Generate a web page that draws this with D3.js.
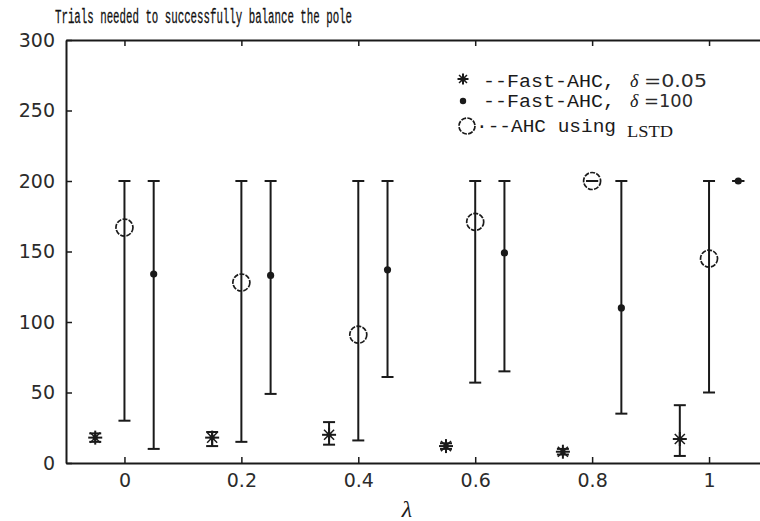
<!DOCTYPE html>
<html>
<head>
<meta charset="utf-8">
<script src="https://cdn.jsdelivr.net/npm/d3@7"></script>
<style>
  html, body { margin: 0; padding: 0; background: #fff; }
  svg { display: block; }
</style>
</head>
<body>
<svg id="chart" width="760" height="521"></svg>
<script>
// Trials needed to balance the pole, per lambda, for three learners
const lambdaStar = [-0.05, 0.15, 0.35, 0.55, 0.75, 0.95];
const starMean   = [18, 18, 20, 12, 8, 17];
const starLow    = [15, 12, 13, 10, 6, 5];
const starHigh   = [21, 22, 29, 14, 10, 41];

const lambdaDot  = [0.05, 0.25, 0.45, 0.65, 0.85, 1.05];
const dotMean    = [134, 133, 137, 149, 110, 200];
const dotLow     = [10, 49, 61, 65, 35, 200];
const dotHigh    = [200, 200, 200, 200, 200, 200];

const lambdaCirc = [0, 0.2, 0.4, 0.6, 0.8, 1.0];
const circMean   = [167, 128, 91, 171, 200, 145];
const circLow    = [30, 15, 16, 57, 200, 50];
const circHigh   = [200, 200, 200, 200, 200, 200];

const xTicks = [0, 0.2, 0.4, 0.6, 0.8, 1];
const yTicks = [0, 50, 100, 150, 200, 250, 300];

const titleText = "Trials needed to successfully balance the pole";
const legendLabels = ["--Fast-AHC,", "--Fast-AHC,", "\u00b7--AHC using"];
const legendParams = ["=0.05", "=100", "LSTD"];

const svg = d3.select("#chart");
const ink = "#1a1a1a";

const x = d3.scaleLinear().domain([-0.1, 1.1]).range([66, 767.5]);
const y = d3.scaleLinear().domain([0, 300]).range([463, 40]);

// frame with inward ticks
function styleAxis(g) {
  g.select(".domain").attr("stroke", ink).attr("stroke-width", 2);
  g.selectAll(".tick line").attr("stroke", ink).attr("stroke-width", 1.5);
  g.selectAll(".tick text")
    .attr("fill", "#2b2b2b")
    .attr("font-family", "'DejaVu Sans', sans-serif")
    .attr("font-size", 19);
}

svg.append("g")
  .attr("transform", `translate(0,${y(0)})`)
  .call(d3.axisBottom(x).tickValues(xTicks).tickSizeInner(-6).tickSizeOuter(0)
        .tickPadding(11).tickFormat(d => String(+d.toFixed(1))))
  .call(styleAxis);

svg.append("g")
  .attr("transform", `translate(0,${y(300)})`)
  .call(d3.axisTop(x).tickValues(xTicks).tickSizeInner(-6).tickSizeOuter(0).tickFormat(""))
  .call(styleAxis);

svg.append("g")
  .attr("transform", `translate(${x(-0.1)},0)`)
  .call(d3.axisLeft(y).tickValues(yTicks).tickSizeInner(-6).tickSizeOuter(0).tickPadding(11))
  .call(styleAxis);

svg.append("g")
  .attr("transform", `translate(${x(1.1)},0)`)
  .call(d3.axisRight(y).tickValues(yTicks).tickSizeInner(-6).tickSizeOuter(0).tickFormat(""))
  .call(styleAxis);

// error bars
function errorBars(xs, lo, hi) {
  const g = svg.append("g").attr("stroke", ink).attr("stroke-width", 2).attr("fill", "none");
  xs.forEach((lx, i) => {
    const cx = x(lx);
    g.append("line").attr("x1", cx).attr("x2", cx).attr("y1", y(lo[i])).attr("y2", y(hi[i]));
    g.append("line").attr("x1", cx - 6).attr("x2", cx + 6).attr("y1", y(lo[i])).attr("y2", y(lo[i]));
    g.append("line").attr("x1", cx - 6).attr("x2", cx + 6).attr("y1", y(hi[i])).attr("y2", y(hi[i]));
  });
}
errorBars(lambdaStar, starLow, starHigh);
errorBars(lambdaDot, dotLow, dotHigh);
errorBars(lambdaCirc, circLow, circHigh);

// markers
function star(g, cx, cy, r) {
  const s = g.append("g").attr("transform", `translate(${cx},${cy})`).attr("stroke", ink);
  s.append("line").attr("x1", -r).attr("x2", r).attr("stroke-width", 2);
  s.append("line").attr("y1", -r).attr("y2", r).attr("stroke-width", 2);
  const d = r * 0.72;
  s.append("line").attr("x1", -d).attr("y1", -d).attr("x2", d).attr("y2", d).attr("stroke-width", 1.5);
  s.append("line").attr("x1", -d).attr("y1", d).attr("x2", d).attr("y2", -d).attr("stroke-width", 1.5);
  s.append("circle").attr("r", 2.6).attr("fill", ink).attr("stroke", "none");
}
function dot(g, cx, cy, r) {
  g.append("circle").attr("cx", cx).attr("cy", cy).attr("r", r).attr("fill", ink);
}
function ring(g, cx, cy, r) {
  g.append("circle").attr("cx", cx).attr("cy", cy).attr("r", r)
    .attr("fill", "none").attr("stroke", ink).attr("stroke-width", 1.7)
    .attr("stroke-dasharray", "5 1.3");
}

const marks = svg.append("g");
lambdaStar.forEach((lx, i) => star(marks, x(lx), y(starMean[i]), 7));
lambdaDot.forEach((lx, i) => dot(marks, x(lx), y(dotMean[i]), 3.6));
lambdaCirc.forEach((lx, i) => ring(marks, x(lx), y(circMean[i]), 8.5));

// title
svg.append("text")
  .attr("x", 55).attr("y", 23)
  .attr("font-family", "'Liberation Mono', monospace")
  .attr("font-size", 20)
  .attr("textLength", 297).attr("lengthAdjust", "spacingAndGlyphs")
  .attr("fill", "#111")
  .attr("stroke", "#111").attr("stroke-width", 0.3)
  .text(titleText);

// legend
const leg = svg.append("g");
star(leg, 463, 79, 5.5);
dot(leg, 463, 101, 3.2);
ring(leg, 467, 126, 8);

const monoFont = "'Liberation Mono', monospace";
const rows = [
  { x: 483, y: 87, w: 132 },
  { x: 483, y: 107, w: 132 },
  { x: 476, y: 132, w: 140 }
];
rows.forEach((r, i) => {
  leg.append("text")
    .attr("x", r.x).attr("y", r.y)
    .attr("font-family", monoFont).attr("font-size", 18)
    .attr("textLength", r.w).attr("lengthAdjust", "spacingAndGlyphs")
    .attr("fill", ink)
    .text(legendLabels[i]);
});
[87, 107].forEach((by, i) => {
  leg.append("text")
    .attr("x", 630).attr("y", by)
    .attr("font-family", "'Liberation Serif', serif").attr("font-style", "italic")
    .attr("font-size", 18).attr("fill", ink)
    .text("\u03b4");
  leg.append("text")
    .attr("x", 644).attr("y", by)
    .attr("font-family", "'DejaVu Sans', sans-serif").attr("font-size", 17)
    .attr("textLength", i === 0 ? 63 : 49).attr("lengthAdjust", "spacingAndGlyphs")
    .attr("fill", "#2b2b2b")
    .text(legendParams[i]);
});
leg.append("text")
  .attr("x", 627).attr("y", 137)
  .attr("font-family", "'Liberation Serif', serif").attr("font-size", 17)
  .attr("textLength", 46).attr("lengthAdjust", "spacingAndGlyphs")
  .attr("fill", ink)
  .text(legendParams[2]);

// x-axis label
svg.append("text")
  .attr("x", 407).attr("y", 517)
  .attr("text-anchor", "middle")
  .attr("font-family", "'Liberation Serif', serif").attr("font-style", "italic")
  .attr("font-size", 24).attr("fill", ink)
  .text("\u03bb");
</script>
</body>
</html>
